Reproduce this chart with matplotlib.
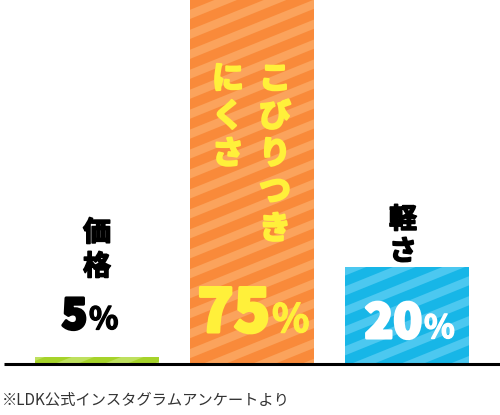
import numpy as np
import matplotlib.pyplot as plt
import matplotlib.patheffects as pe
from matplotlib.patches import Polygon
from matplotlib.transforms import IdentityTransform

# survey result: what people care about
labels = ["価格", "こびりつきにくさ", "軽さ"]
percents = [5, 75, 20]
# heights as drawn in the picture (the 5% bar is drawn as a thin strip)
bar_heights = [1.5, 75, 20]
note = "※LDK公式インスタグラムアンケートより"

colors = ["#A6D32A", "#F98A3A", "#17B6E7"]
stripe_colors = ["#BEE05E", "#FBA35C", "#4CC8F0"]

W, H = 500, 415
JP = ["Noto Sans CJK JP", "DejaVu Sans"]


def px(x, y):
    """pixel position (top-left origin) -> figure fraction"""
    return x / W, 1 - y / H


def add_stripes(ax, bar, color):
    ang = np.deg2rad(22)
    d = np.array([np.cos(ang), np.sin(ang)])
    n = np.array([-np.sin(ang), np.cos(ang)])
    period, width, L = 18.5, 8.5, 1200
    for k in range(-40, 40):
        o = k * period * n
        pts = [o - L * d, o + L * d, o + width * n + L * d, o + width * n - L * d]
        poly = Polygon(pts, closed=True, facecolor=color, edgecolor="none",
                       transform=IdentityTransform(), zorder=2)
        ax.add_patch(poly)
        # clip after adding, add_patch would reset it to the axes patch
        poly.set_clip_path(bar.get_path(), bar.get_transform())


fig = plt.figure(figsize=(5, 4.15), dpi=100)
ax = fig.add_axes([0, 0, 1, 1])
ax.set_xlim(-0.626, 2.6)
ax.set_ylim(-10.5, 75)
ax.axis("off")

x = np.arange(len(labels))
bars = ax.bar(x, bar_heights, width=0.8, color=colors, zorder=1)
for b, sc in zip(bars, stripe_colors):
    add_stripes(ax, b, sc)

ax.plot([-0.6, 2.6], [0, 0], color="black", lw=2.2, zorder=5,
        solid_capstyle="butt")


def heavy(color, w=1.6):
    return [pe.withStroke(linewidth=w, foreground=color)]


# category labels, written top to bottom
def vtext(chars, cx, top, pitch, size, color, w=1.6):
    for i, ch in enumerate(chars):
        fig.text(*px(cx, top + pitch * (i + 0.5)), ch, ha="center", va="center",
                 fontsize=size, fontweight="bold", color=color, family=JP,
                 zorder=10, path_effects=heavy(color, w))

vtext("価格", 97, 216, 34, 20, "black", 1.2)
vtext("軽さ", 403, 204, 32, 20, "black", 1.2)
vtext("こびりつき", 275, 61, 37.5, 23, "#FFF03A")
vtext("にくさ", 228, 61, 37.5, 23, "#FFF03A")


# percentage labels
def pct(value, xnum_right, ybase, size_num, size_pct, color):
    fig.text(*px(xnum_right, ybase), str(value), ha="right", va="baseline",
             fontsize=size_num, fontweight="heavy", color=color, family=JP,
             zorder=10, path_effects=heavy(color, 2.2))
    fig.text(*px(xnum_right + 2, ybase), "%", ha="left", va="baseline",
             fontsize=size_pct, fontweight="bold", color=color, family=JP,
             zorder=10, path_effects=heavy(color, 1.0))

pct(percents[0], 87, 329, 30, 22, "black")
pct(percents[1], 270, 332, 43, 28, "#FFF03A")
pct(percents[2], 422, 338, 34, 23, "white")

fig.text(*px(2, 400), note, ha="left", va="center", fontsize=11,
         color="#333333", family=JP)

plt.savefig("out.png", dpi=100)
